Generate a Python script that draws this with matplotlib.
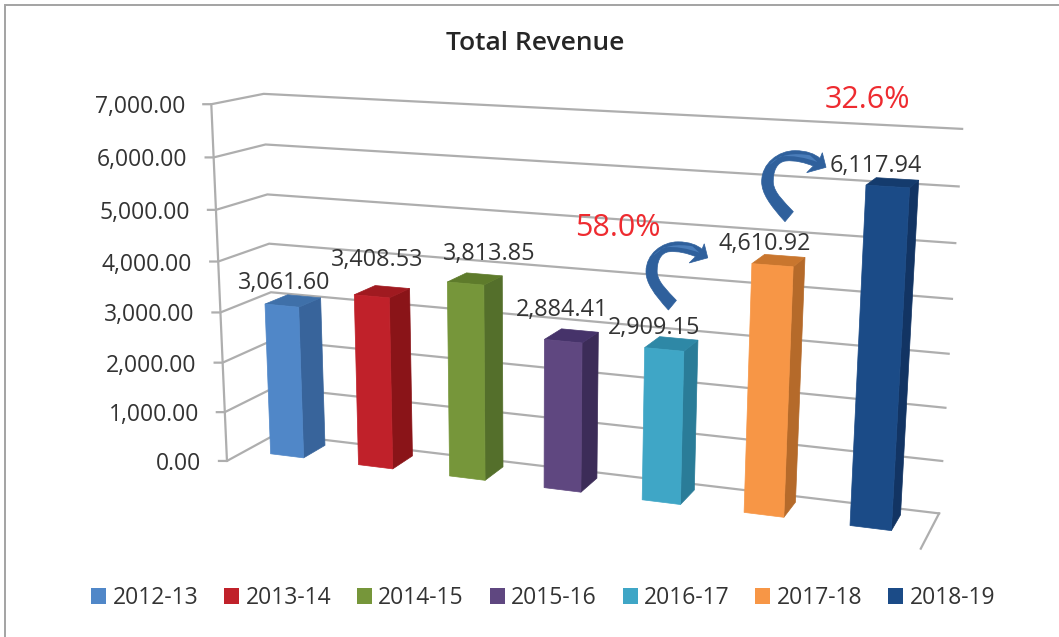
import numpy as np
import matplotlib
matplotlib.use("Agg")
import matplotlib.pyplot as plt
from matplotlib.patches import Polygon, PathPatch, Patch
from matplotlib.path import Path
from matplotlib.transforms import Affine2D

plt.rcParams['font.family'] = ['Open Sans', 'DejaVu Sans']

years = ["2012-13", "2013-14", "2014-15", "2015-16", "2016-17", "2017-18", "2018-19"]
revenue = [3061.60, 3408.53, 3813.85, 2884.41, 2909.15, 4610.92, 6117.94]
ticks = [0, 1000, 2000, 3000, 4000, 5000, 6000, 7000]

front_colors = ["#5087c8", "#c0212a", "#76963a", "#5f4780", "#3fa6c6", "#f79646", "#1b4b87"]
side_colors = ["#38649b", "#8a1418", "#546f2b", "#3c2c58", "#2a7c98", "#b56a2a", "#123463"]
top_colors = ["#3f70a9", "#a01a20", "#5e7b2b", "#46336a", "#2e88a6", "#c9762e", "#143b6d"]

# screen position of a label, relative to the top of its bar
label_offset = [(2, -26), (5, -39), (24, -33), (-1, -34), (-10, -24), (-8, -24), (-12, -23)]

TEXT = "#333333"
GRID = "#aeaeae"
BLUE = "#2f609c"
RED = "#ee2b30"

# wall and floor corners on the page: (category, value, depth) -> pixel
corners = [
    ((0, 7000, 0), (265, 93)),
    ((7, 7000, 0), (962, 129)),
    ((7, 0, 0), (939, 512)),
    ((0, 0, 0), (275, 436)),
    ((0, 7000, 1), (210, 105)),
    ((0, 0, 1), (228, 459)),
    ((7, 0, 1), (921, 550)),
]


def fit_camera(pairs):
    rows = []
    for (u, v, w), (x, y) in pairs:
        p = [u, v / 1000.0, w, 1]
        rows.append(p + [0, 0, 0, 0] + [-x * c for c in p])
        rows.append([0, 0, 0, 0] + p + [-y * c for c in p])
    return np.linalg.svd(np.array(rows))[2][-1].reshape(3, 4)


cam = fit_camera(corners)


def project(u, v, w):
    x, y, s = cam @ np.array([u, v / 1000.0, w, 1])
    return x / s, y / s


fig = plt.figure(figsize=(10.59, 6.37), dpi=100)
ax = fig.add_axes([0, 0, 1, 1])
ax.set_xlim(0, 1059)
ax.set_ylim(637, 0)
ax.axis("off")
# the frame only shows on the top and left, the crop cuts off the rest
ax.plot([4.5, 4.5, 1059], [637, 4.5, 4.5], color="#a3a3a3", lw=1.4, solid_joinstyle="miter")

# walls
for t in ticks:
    fx, fy = project(0, t, 1)
    pts = [(fx - 8, fy), (fx, fy), project(0, t, 0), project(7, t, 0)]
    ax.plot(*zip(*pts), color=GRID, lw=1.6, solid_joinstyle="miter", zorder=1)
    ax.text(fx - 26, fy, f"{t:,.2f}", ha="right", va="center_baseline", fontsize=16.5, color=TEXT, zorder=6)
ax.plot(*zip(project(0, 0, 1), project(0, 7000, 1)), color=GRID, lw=1.6, zorder=1)
ax.plot(*zip(project(7, 0, 0), project(7, 0, 1)), color=GRID, lw=1.6, zorder=1)

# bars
half = 0.19
w0, w1 = 0.17, 0.63
for i, val in enumerate(revenue):
    c = i + 0.48
    l, r = c - half, c + half
    ax.add_patch(Polygon([project(r, 0, w1), project(r, val, w1), project(r, val, w0), project(r, 0, w0)],
                         fc=side_colors[i], ec=side_colors[i], lw=0.5, zorder=3))
    ax.add_patch(Polygon([project(l, val, w1), project(r, val, w1), project(r, val, w0), project(l, val, w0)],
                         fc=top_colors[i], ec=top_colors[i], lw=0.5, zorder=3))
    ax.add_patch(Polygon([project(l, 0, w1), project(r, 0, w1), project(r, val, w1), project(l, val, w1)],
                         fc=front_colors[i], ec=front_colors[i], lw=0.5, zorder=4))
    tx, ty = project(c, val, w1)
    ax.text(tx + label_offset[i][0], ty + label_offset[i][1], f"{val:,.2f}", ha="center", va="center_baseline",
            fontsize=16.8, color=TEXT, zorder=6)

ax.text(535, 43, "Total Revenue", ha="center", va="center", fontsize=19, color="#262626", fontweight="semibold")
ax.text(618, 225, "58.0%", ha="center", va="center_baseline", fontsize=22, color=RED, zorder=7)
ax.text(867, 97, "32.6%", ha="center", va="center_baseline", fontsize=22, color=RED, zorder=7)

# curved growth arrows
arrow_verts = [(495, 275), (450, 225), (425, 190), (425, 155), (425, 100), (475, 62), (525, 62),
               (560, 62), (585, 72), (600, 85), (607, 68), (618, 112), (560, 128), (580, 108),
               (555, 98), (525, 90), (497, 93), (470, 96), (458, 125), (460, 160),
               (464, 190), (492, 215), (520, 245), (495, 275)]
arrow_codes = [Path.MOVETO] + [Path.CURVE4] * 9 + [Path.LINETO] * 4 + [Path.CURVE4] * 9 + [Path.CLOSEPOLY]
glow_verts = [(448, 105), (475, 72), (525, 68), (570, 76), (592, 96), (560, 84), (515, 74), (480, 80), (448, 105)]
glow_codes = [Path.MOVETO] + [Path.CURVE4] * 3 + [Path.LINETO] + [Path.CURVE4] * 3 + [Path.CLOSEPOLY]
arrow_path = Path(np.array(arrow_verts) / 3.0, arrow_codes)
glow_path = Path(np.array(glow_verts) / 3.0, glow_codes)
for sx, dx, dy in [(1.0, 620, 130), (0.96, 510, 222)]:
    tr = Affine2D().scale(sx).translate(dx, dy) + ax.transData
    ax.add_patch(PathPatch(arrow_path, fc=BLUE, ec=BLUE, lw=0.5, transform=tr, zorder=5))
    ax.add_patch(PathPatch(glow_path, fc="#4a7dba", ec="none", transform=tr, zorder=5))

handles = [Patch(fc=c, ec="none", label=y) for c, y in zip(front_colors, years)]
ax.legend(handles=handles, ncol=7, loc="center", bbox_to_anchor=(543 / 1059, 1 - 598 / 637), frameon=False,
          fontsize=16.5, handlelength=0.66, handleheight=0.66, handletextpad=0.28, columnspacing=1.12,
          labelcolor=TEXT, borderpad=0)

fig.savefig("out.png", dpi=100)
